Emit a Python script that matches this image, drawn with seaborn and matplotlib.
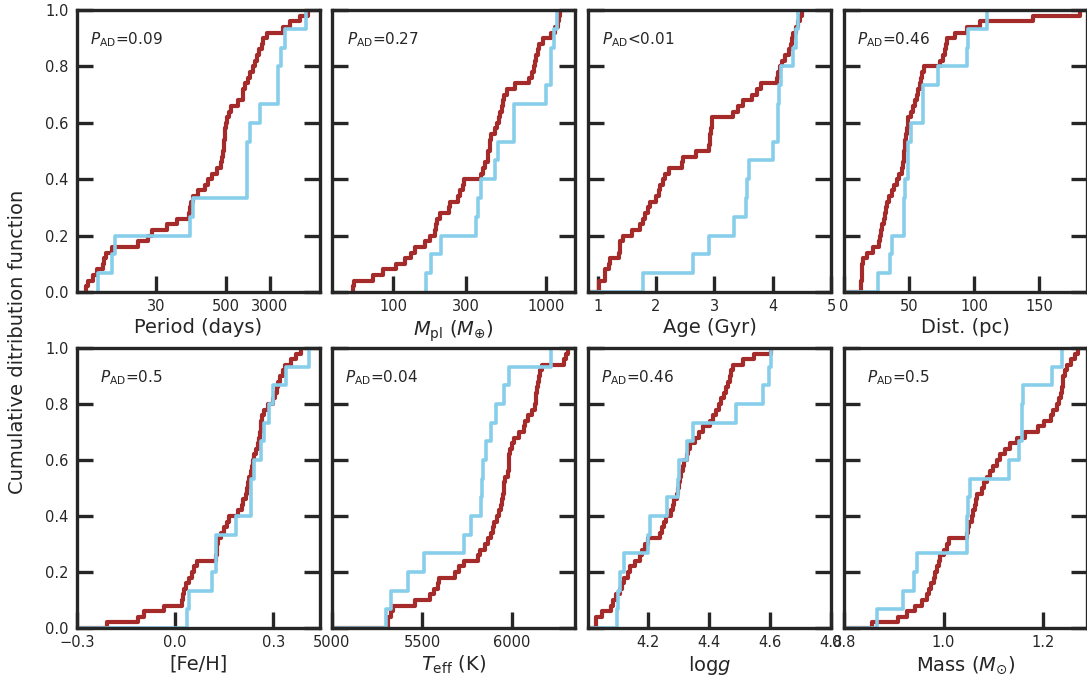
import numpy as np
import matplotlib
matplotlib.use("Agg")
import matplotlib.pyplot as plt
from matplotlib.ticker import NullLocator
import seaborn as sns

# ---- sample values (sorted) for the two populations, one pair per quantity ----
period_red = [1.77, 1.95, 2.32, 2.80, 3.48, 3.67, 3.98, 5.0, 14.7, 22.0,
              25.2, 46.1, 69.1, 113.8, 116.9, 121.7, 135.5, 166, 217, 248,
              284, 348, 409, 431, 449, 461, 468, 481, 493, 500,
              528, 580, 621, 834, 994, 1021, 1092, 1216, 1337, 1489,
              1636, 1750, 1897, 2143, 2291, 2624, 5140, 6730, 10070, 14120]
period_blue = [2.92, 5.0, 5.72, 118.4, 135.5, 1169, 1169, 1169, 1337, 2004,
               4200, 4200, 4617, 5500, 12850]

mpl_red = [54.9, 55.3, 74.1, 86.1, 105.1, 119.1, 130.3, 139.8, 160.8, 173.4,
           186.8, 191.6, 194.5, 201.4, 230.6, 234.0, 265.2, 271.9, 285.8, 290.1,
           376.2, 385.7, 399.4, 415.7, 419.9, 426.3, 430.6, 437.1, 464.2, 473.6,
           488.0, 502.8, 515.5, 526.0, 534.0, 555.7, 626.6, 776.9, 804.5, 829.1,
           845.9, 858.6, 880.3, 902.6, 948.9, 1075, 1142, 1188, 1218, 1237]
mpl_blue = [163.3, 177.7, 206.5, 349.2, 357.9, 376.2, 459.6, 483.1, 620.3, 620.3,
            997.5, 1075, 1075, 1130, 1170]

age_red = [1.017, 1.017, 1.131, 1.131, 1.188, 1.216, 1.358, 1.375, 1.386, 1.432,
           1.585, 1.727, 1.784, 1.813, 1.858, 1.898, 2.000, 2.057, 2.068, 2.114,
           2.153, 2.227, 2.438, 2.455, 2.693, 2.909, 2.920, 2.932, 2.943, 2.955,
           2.966, 3.318, 3.403, 3.489, 3.648, 3.727, 3.801, 4.068, 4.091, 4.125,
           4.159, 4.216, 4.273, 4.313, 4.330, 4.352, 4.398, 4.426, 4.466, 4.511]
age_blue = [1.784, 2.636, 2.909, 3.330, 3.545, 3.557, 3.602, 4.000, 4.085, 4.085,
            4.102, 4.142, 4.341, 4.398, 4.426]

dist_red = [13.1, 13.3, 13.6, 13.8, 14.1, 14.6, 17.4, 22.6, 27.2, 27.9,
            28.5, 29.5, 30.5, 31.3, 32.1, 33.1, 34.6, 36.7, 38.7, 40.8,
            42.3, 44.4, 45.4, 45.9, 46.4, 46.9, 47.2, 47.9, 48.5, 49.0,
            49.5, 51.5, 53.1, 54.6, 56.2, 57.2, 58.5, 59.2, 59.7, 61.8,
            74.1, 76.4, 77.7, 78.5, 79.2, 85.4, 94.4, 104.6, 145.6, 181.5]
dist_blue = [26.4, 35.4, 37.2, 46.4, 46.4, 46.9, 49.0, 49.5, 51.5, 61.0,
             61.0, 72.6, 94.4, 95.6, 109.7]

feh_red = [-0.207, -0.115, -0.095, -0.034, 0.020, 0.024, 0.028, 0.033, 0.043, 0.051,
           0.058, 0.068, 0.124, 0.127, 0.129, 0.131, 0.140, 0.150, 0.160, 0.165,
           0.191, 0.204, 0.208, 0.216, 0.221, 0.224, 0.227, 0.232, 0.235, 0.237,
           0.242, 0.247, 0.253, 0.257, 0.260, 0.262, 0.264, 0.267, 0.271, 0.283,
           0.298, 0.306, 0.310, 0.316, 0.320, 0.329, 0.337, 0.354, 0.369, 0.385]
feh_blue = [0.035, 0.041, 0.114, 0.124, 0.124, 0.186, 0.232, 0.232, 0.242, 0.262,
            0.272, 0.288, 0.298, 0.339, 0.410]

teff_red = [5309, 5313, 5328, 5337, 5461, 5546, 5565, 5587, 5596, 5685,
            5707, 5735, 5813, 5824, 5850, 5869, 5883, 5894, 5902, 5917,
            5926, 5939, 5946, 5952, 5954, 5957, 5961, 5978, 5981, 5983,
            5985, 5989, 5998, 6013, 6041, 6065, 6074, 6087, 6109, 6128,
            6131, 6135, 6139, 6146, 6152, 6157, 6165, 6287, 6300, 6309]
teff_blue = [5300, 5328, 5420, 5513, 5735, 5772, 5828, 5831, 5837, 5856,
             5883, 5911, 5957, 5985, 6217]

logg_red = [4.029, 4.031, 4.050, 4.078, 4.086, 4.097, 4.108, 4.115, 4.123, 4.134,
            4.140, 4.159, 4.173, 4.180, 4.191, 4.202, 4.240, 4.246, 4.253, 4.260,
            4.275, 4.281, 4.286, 4.294, 4.300, 4.303, 4.305, 4.309, 4.314, 4.319,
            4.327, 4.333, 4.338, 4.354, 4.368, 4.381, 4.403, 4.414, 4.422, 4.433,
            4.441, 4.448, 4.457, 4.462, 4.468, 4.473, 4.479, 4.511, 4.549, 4.603]
logg_blue = [4.099, 4.101, 4.110, 4.121, 4.202, 4.208, 4.262, 4.300, 4.301, 4.327,
             4.349, 4.489, 4.576, 4.598, 4.603]

mass_red = [0.856, 0.909, 0.926, 0.943, 0.956, 0.966, 0.970, 0.974, 0.980, 0.983,
            0.987, 0.990, 0.993, 1.000, 1.007, 1.010, 1.048, 1.050, 1.051, 1.057,
            1.060, 1.064, 1.066, 1.067, 1.077, 1.082, 1.087, 1.094, 1.099, 1.107,
            1.114, 1.124, 1.134, 1.148, 1.164, 1.189, 1.201, 1.215, 1.220, 1.228,
            1.232, 1.235, 1.238, 1.239, 1.240, 1.243, 1.248, 1.256, 1.263, 1.270]
mass_blue = [0.866, 0.919, 0.940, 0.946, 1.047, 1.048, 1.050, 1.054, 1.131, 1.151,
             1.158, 1.158, 1.159, 1.218, 1.238]

# ---- axis annotations ----
x_labels = ["Period (days)", r"$M_{\rm pl}$ ($M_{\oplus}$)", "Age (Gyr)", "Dist. (pc)",
            "[Fe/H]", r"$T_{\rm eff}$ (K)", r"log$g$", r"Mass ($M_{\odot}$)"]
p_ad_values = ["=0.09", "=0.27", "<0.01", "=0.46", "=0.5", "=0.04", "=0.46", "=0.5"]
x_ticks = [[30, 500, 3000], [100, 300, 1000], [1, 2, 3, 4, 5], [0, 50, 100, 150],
           [-0.3, 0.0, 0.3], [5000, 5500, 6000], [4.2, 4.4, 4.6, 4.8], [0.8, 1.0, 1.2]]
x_tick_labels = [["30", "500", "3000"], ["100", "300", "1000"], ["1", "2", "3", "4", "5"],
                 ["0", "50", "100", "150"], ["\u22120.3", "0.0", "0.3"],
                 ["5000", "5500", "6000"], ["4.2", "4.4", "4.6", "4.8"],
                 ["0.8", "1.0", "1.2"]]
y_ticks = [0.0, 0.2, 0.4, 0.6, 0.8, 1.0]
y_tick_labels = ["0.0", "0.2", "0.4", "0.6", "0.8", "1.0"]

red_sets = [period_red, mpl_red, age_red, dist_red, feh_red, teff_red, logg_red, mass_red]
blue_sets = [period_blue, mpl_blue, age_blue, dist_blue, feh_blue, teff_blue, logg_blue, mass_blue]
log_axes = [True, True, False, False, False, False, False, False]
x_limits = [(1.23, 22600), (40, 1540), (0.835, 5.0), (0, 187),
            (-0.3, 0.443), (5000, 6350), (4.004, 4.8), (0.8, 1.288)]

sns.set_style("ticks")
plt.rcParams["font.family"] = ["DejaVu Sans"]
plt.rcParams["mathtext.fontset"] = "dejavusans"

RED = "#a52a2a"
BLUE = "#87ceeb"
INK = "#262626"

W, H = 1087, 684
fig = plt.figure(figsize=(W / 100, H / 100), dpi=100)

col_left = [77, 332, 588, 844]
row_top = [10, 348]
row_h = [282, 280]
ax_w = 243

for i in range(8):
    r, c = divmod(i, 4)
    rect = [col_left[c] / W, (H - row_top[r] - row_h[r]) / H, ax_w / W, row_h[r] / H]
    ax = fig.add_axes(rect)

    sns.ecdfplot(x=red_sets[i], ax=ax, color=RED, linewidth=3.0, log_scale=log_axes[i])
    sns.ecdfplot(x=blue_sets[i], ax=ax, color=BLUE, linewidth=2.6, log_scale=log_axes[i])

    # start each step curve at the left edge of the panel instead of -inf
    x0 = x_limits[i][0]
    for ln in ax.get_lines():
        xd = np.asarray(ln.get_xdata(), dtype=float).copy()
        xd[~np.isfinite(xd)] = x0
        ln.set_xdata(xd)
        ln.set_solid_capstyle("butt")

    ax.set_xlim(*x_limits[i])
    ax.set_ylim(0, 1)
    ax.set_xticks(x_ticks[i])
    ax.set_xticklabels(x_tick_labels[i])
    ax.xaxis.set_minor_locator(NullLocator())
    ax.set_yticks(y_ticks)
    ax.set_yticklabels(y_tick_labels)

    ax.tick_params(axis="both", which="major", direction="in", length=11.5, width=2.4,
                   color=INK, labelcolor=INK, labelsize=10.5, pad=6)
    ax.tick_params(axis="x", top=False, bottom=True, pad=5)
    ax.tick_params(axis="y", left=True, right=True, labelleft=(c == 0))
    for sp in ax.spines.values():
        sp.set_linewidth(2.4)
        sp.set_color(INK)
        sp.set_visible(True)

    ax.set_xlabel(x_labels[i], fontsize=14, color=INK, labelpad=3)
    ax.set_ylabel("")
    ax.text(0.355, 0.895, r"$P_{\rm AD}$" + p_ad_values[i], transform=ax.transAxes,
            ha="right", va="center", fontsize=11, color=INK)

fig.text(18 / W, 0.5, "Cumulative ditribution function", rotation=90,
         ha="center", va="center", fontsize=14, color=INK)

fig.savefig("out.png", dpi=100)
